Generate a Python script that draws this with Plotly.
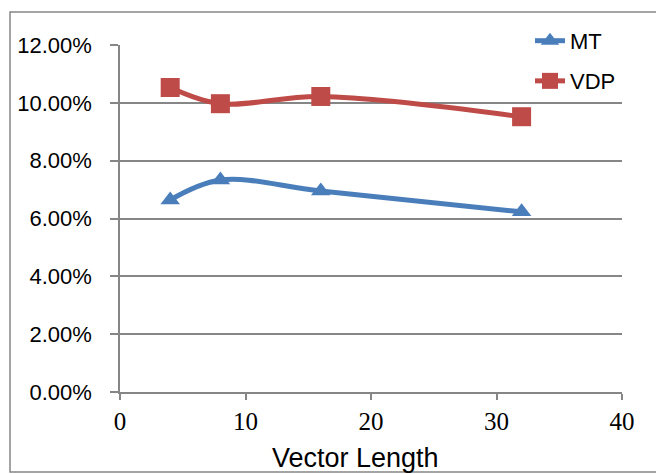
import plotly.graph_objects as go

vector_length = [4, 8, 16, 32]
mt = [0.0664, 0.0733, 0.0695, 0.0623]
vdp = [0.1053, 0.0997, 0.1022, 0.0952]
x_ticks = [0, 10, 20, 30, 40]
y_ticks = [0, 0.02, 0.04, 0.06, 0.08, 0.10, 0.12]

fig = go.Figure()
fig.add_trace(go.Scatter(
    x=vector_length, y=mt, name="MT", mode="lines+markers", legend="legend",
    line=dict(color="#4A7EBB", width=5, shape="spline", smoothing=1),
    marker=dict(symbol="triangle-up", size=17, color="#4A7EBB"),
))
fig.add_trace(go.Scatter(
    x=vector_length, y=vdp, name="VDP", mode="lines+markers", legend="legend2",
    line=dict(color="#BE4B48", width=5, shape="spline", smoothing=1),
    marker=dict(symbol="square", size=19, color="#BE4B48"),
))

grid = "#868686"
legend_font = dict(family="Liberation Sans", size=22, color="black")
fig.update_layout(
    width=656, height=474,
    margin=dict(l=120, r=34, t=45, b=82),
    paper_bgcolor="white", plot_bgcolor="white",
    showlegend=True,
    legend=dict(x=0.8167, y=1.081 - 3 / 347, xanchor="left", yanchor="top",
                bgcolor="rgba(0,0,0,0)", font=legend_font),
    legend2=dict(x=0.8167, y=0.971 - 5 / 347, xanchor="left", yanchor="top",
                 bgcolor="rgba(0,0,0,0)", font=legend_font),
    xaxis=dict(range=[0, 40], tickvals=x_ticks, ticktext=[str(v) for v in x_ticks],
               automargin=False,
               showgrid=False, zeroline=False, showline=True, linecolor=grid, linewidth=1.5,
               ticks="outside", ticklen=6, tickcolor=grid, tickwidth=1.5,
               ticklabelstandoff=0,
               tickfont=dict(family="Liberation Serif", size=25, color="black")),
    yaxis=dict(range=[0, 0.12], tickvals=y_ticks, tickformat=".2%",
               automargin=False,
               showgrid=True, gridcolor=grid, gridwidth=1.5, zeroline=False,
               showline=True, linecolor=grid, linewidth=1.5,
               ticks="outside", ticklen=8, tickcolor=grid, tickwidth=1.5,
               ticklabelstandoff=14,
               tickfont=dict(family="Liberation Sans", size=22, color="black")),
    annotations=[dict(text="Vector Length", xref="paper", yref="paper",
                      x=(355 - 120) / 502, y=(392 - 457.5) / 347,
                      xanchor="center", yanchor="middle", showarrow=False,
                      font=dict(family="Liberation Sans", size=27, color="black"))],
    shapes=[dict(type="rect", xref="paper", yref="paper",
                 x0=(10 - 120) / 502, x1=(700 - 120) / 502,
                 y0=(392 - 472) / 347, y1=1 + (45 - 12) / 347,
                 line=dict(color="#868686", width=1.5), layer="below")],
)

fig.write_html("out.html")
